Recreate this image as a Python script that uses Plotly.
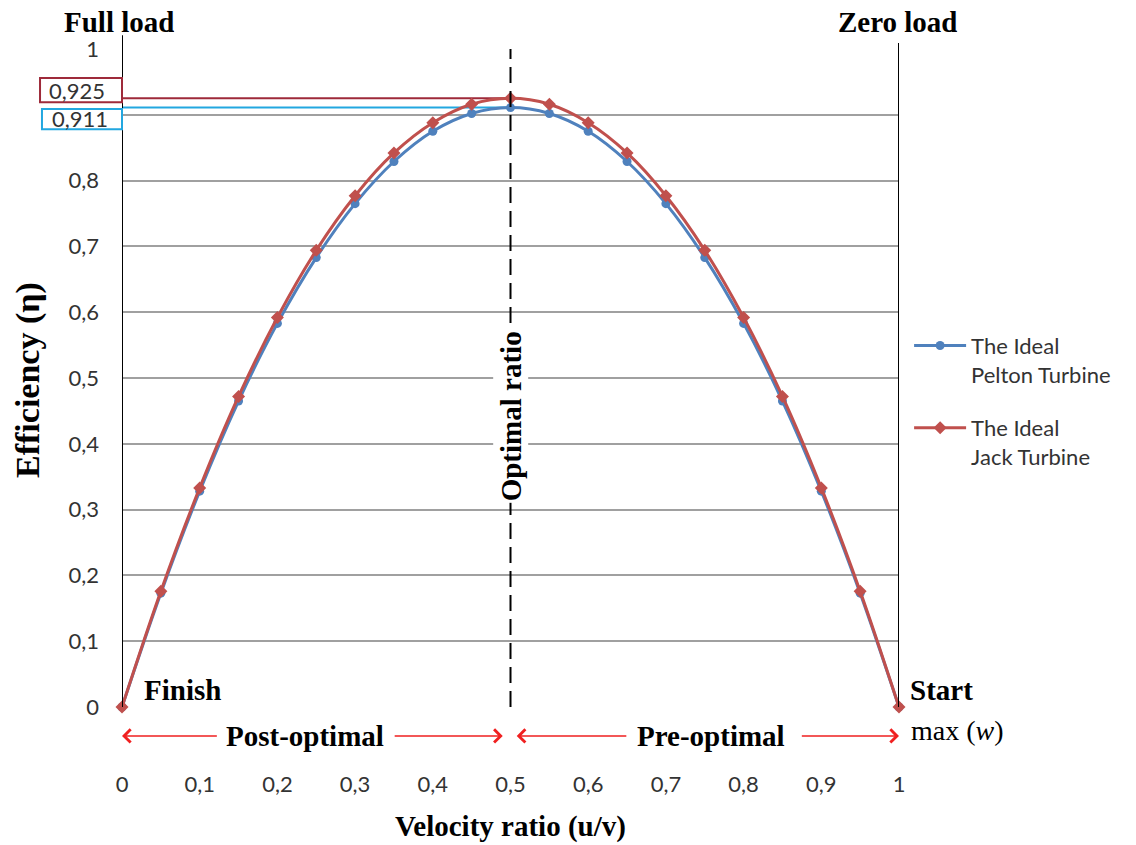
import plotly.graph_objects as go

ratio = [0, 0.05, 0.1, 0.15, 0.2, 0.25, 0.3, 0.35, 0.4, 0.45, 0.5,
         0.55, 0.6, 0.65, 0.7, 0.75, 0.8, 0.85, 0.9, 0.95, 1.0]
pelton = [0, 0.173, 0.328, 0.465, 0.583, 0.683, 0.765, 0.829, 0.875, 0.902, 0.911,
          0.902, 0.875, 0.829, 0.765, 0.683, 0.583, 0.465, 0.328, 0.173, 0]
jack = [0, 0.176, 0.333, 0.472, 0.592, 0.694, 0.777, 0.842, 0.888, 0.916, 0.925,
        0.916, 0.888, 0.842, 0.777, 0.694, 0.592, 0.472, 0.333, 0.176, 0]
tick_vals = [0, 0.1, 0.2, 0.3, 0.4, 0.5, 0.6, 0.7, 0.8, 0.9, 1]
x_tick_text = ["0", "0,1", "0,2", "0,3", "0,4", "0,5", "0,6", "0,7", "0,8", "0,9", "1"]
# the 0,9 label on the y axis is hidden behind the 0,911 box in the original
y_tick_text = ["0", "0,1", "0,2", "0,3", "0,4", "0,5", "0,6", "0,7", "0,8", "", "1"]
peak_jack = 0.925
peak_pelton = 0.911
peak_jack_label = "0,925"
peak_pelton_label = "0,911"
optimal = 0.5

BLUE = "#4F81BD"
RED = "#C0504D"
MAROON = "#9E2A3A"
CYAN = "#22A7E0"
ARROW = "#F02020"
SERIF = "Liberation Serif"
SANS = "Lato"
TICK_COLOR = "#333333"

fig = go.Figure()
fig.add_trace(go.Scatter(x=ratio, y=pelton, mode="lines+markers", name="The Ideal<br>Pelton Turbine",
                         legendgroup="pelton",
                         line=dict(color=BLUE, width=3, shape="spline"),
                         marker=dict(symbol="circle", size=9, color=BLUE), cliponaxis=False))
fig.add_trace(go.Scatter(x=ratio, y=jack, mode="lines+markers", name="The Ideal<br>Jack Turbine",
                         legendgroup="jack",
                         line=dict(color=RED, width=3, shape="spline"),
                         marker=dict(symbol="diamond", size=10, color=RED), cliponaxis=False))

shapes = [
    dict(type="line", xref="x", yref="y", x0=optimal, x1=optimal, y0=0, y1=1,
         line=dict(color="black", width=2, dash="16px,8px"), layer="above"),
    dict(type="line", xref="x", yref="paper", x0=1, x1=1, y0=0, y1=1.009,
         line=dict(color="black", width=2), layer="above"),
    dict(type="line", xref="x", yref="paper", x0=0, x1=0, y0=0, y1=1.021,
         line=dict(color="black", width=2), layer="above"),
    dict(type="line", xref="x", yref="y", x0=0, x1=optimal, y0=peak_jack, y1=peak_jack,
         line=dict(color=MAROON, width=2), layer="below"),
    dict(type="line", xref="x", yref="y", x0=0, x1=optimal, y0=peak_pelton, y1=peak_pelton,
         line=dict(color=CYAN, width=2), layer="below"),
    dict(type="rect", xref="paper", yref="y", x0=-0.1055, x1=0, y0=0.919, y1=0.956,
         line=dict(color=MAROON, width=2)),
    dict(type="rect", xref="paper", yref="y", x0=-0.103, x1=0, y0=0.878, y1=0.909,
         line=dict(color=CYAN, width=2)),
]

ann = []
def txt(x, y, s, size=29, bold=True, xref="paper", yref="paper", family=SERIF, color="black", **kw):
    ann.append(dict(x=x, y=y, xref=xref, yref=yref, text=(f"<b>{s}</b>" if bold else s),
                    showarrow=False, xanchor="center", yanchor="middle",
                    font=dict(family=family, size=size, color=color), **kw))

txt(-0.004, 1.042, "Full load", height=27)
txt(0.999, 1.042, "Zero load", height=27)
txt(0.0785, 0.026, "Finish")
txt(1.055, 0.026, "Start")
txt(1.075, -0.035, "max (<i>w</i>)", bold=False, size=28)
txt(0.2355, -0.044, "Post-optimal")
txt(0.758, -0.044, "Pre-optimal")
txt(optimal, 0.441, "Optimal ratio", xref="x", yref="y", textangle=-90, bgcolor="white")
txt(-0.121, 0.497, "Efficiency (η)", size=34, textangle=-90)
txt(0.5, -0.181, "Velocity ratio (u/v)")
txt(-0.058, 0.9375, peak_jack_label, bold=False, size=22, yref="y", family=SANS, color=TICK_COLOR)
txt(-0.054, 0.894, peak_pelton_label, bold=False, size=22, yref="y", family=SANS, color=TICK_COLOR)

# red range arrows
for tail, head in [(0.124, 0.0), (0.349, 0.49), (0.651, 0.508), (0.873, 1.0)]:
    ann.append(dict(x=head, y=-0.044, xref="x", yref="paper", ax=tail, ay=0, axref="x", ayref="pixel",
                    showarrow=True, arrowhead=4, arrowsize=1.7, arrowwidth=1.5, arrowcolor=ARROW,
                    text=""))

fig.update_layout(
    width=1136, height=845,
    margin=dict(l=114, r=245, t=41, b=146, autoexpand=False),
    paper_bgcolor="white", plot_bgcolor="white",
    shapes=shapes, annotations=ann,
    legend=dict(x=1.013, y=0.581, xanchor="left", yanchor="top", valign="top",
                font=dict(family=SANS, size=22, color=TICK_COLOR), itemwidth=52,
                tracegroupgap=22),
    xaxis=dict(range=[0, 1], tickvals=tick_vals, ticktext=x_tick_text, showgrid=False, zeroline=False,
               showline=False, ticks="", ticklabelstandoff=62, automargin=False,
               tickfont=dict(family=SANS, size=22, color=TICK_COLOR)),
    yaxis=dict(range=[0, 1], tickvals=tick_vals, ticktext=y_tick_text, showgrid=True,
               gridcolor="#A0A0A0", gridwidth=1.5, zeroline=False, showline=False, ticks="",
               ticklabelstandoff=22, automargin=False,
               tickfont=dict(family=SANS, size=22, color=TICK_COLOR)),
    showlegend=True,
)
fig.write_html("out.html")
